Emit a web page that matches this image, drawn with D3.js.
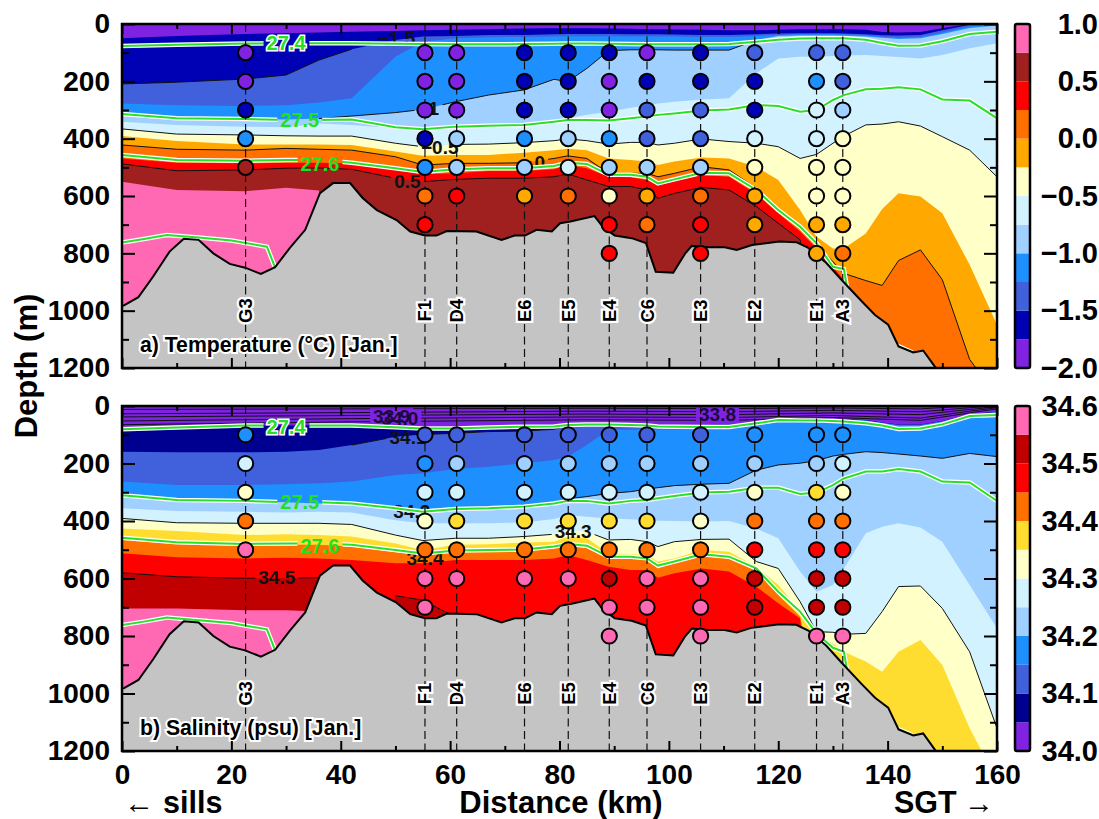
<!DOCTYPE html>
<html>
<head>
<meta charset="utf-8">
<script src="https://cdn.jsdelivr.net/npm/d3@7"></script>
<style>
  html, body { margin: 0; padding: 0; background: #fff; }
  text { font-family: "Liberation Sans", Arial, sans-serif; font-weight: bold; }
</style>
</head>
<body>
<div id="chart"></div>
<script>
// distance knots (km) shared by the contour arrays below, depths in m
var distKm = [0,10,22.5,30,36,42,50,55,61,67,73.5,79,81.5,85,89,93,96,98,101,106,111,116,120,124,127,130,132,136,139,142,146,150,155,160];

// temperature: depth where each colour band starts
var tempB1 = [50,42,35,32,30,27,24,22,20,18,16,15,15,15,16,17,18,18,19,20,22,22,20,18,18,18,18,20,28,30,28,15,0,-5];
var tempB2 = [209,203,192,178,126,88,56,44,42,38,38,36,35,35,35,36,36,36,37,38,38,36,33,32,32,32,33,36,39,40,38,22,3,-2];
var tempB3 = [277,283,286,283,274,259,114,62,50,46,45,44,43,43,43,44,44,44,44,45,45,42,38,36,36,36,37,40,45,48,45,30,8,0];
var tempB4 = [312,323,330,333,330,321,309,298,271,248,230,193,201,155,93,90,90,90,91,91,91,56,42,40,40,40,41,44,48,52,50,35,14,5];
var tempB5 = [341,352,358,360,347,352,364,370,360,356,350,341,329,317,306,292,283,277,271,263,259,172,120,114,114,112,110,108,112,115,120,108,85,67];
var tempB6 = [366,384,387,390,391,391,416,428,420,419,414,407,401,407,419,413,413,422,416,401,410,416,428,469,455,416,391,352,349,341,356,393,440,533];
var tempB7 = [391,408,420,420,420,422,445,460,457,457,449,440,435,440,469,474,480,492,480,466,469,498,544,649,742,783,783,731,645,590,602,660,840,1049];
var tempB8 = [422,437,440,434,437,440,463,492,486,486,484,469,460,469,521,521,521,533,521,498,509,573,649,713,771,829,870,895,912,825,788,892,1170,1300];
var tempB9 = [469,484,486,484,484,486,507,523,521,513,513,507,492,503,533,535,544,562,548,527,533,593,660,724,783,847,893,1300,1300,1300,1300,1300,1300,1300];
var tempB10 = [488,512,509,503,502,507,538,550,542,538,538,533,523,544,567,567,579,608,591,570,579,637,695,753,1300,1300,1300,1300,1300,1300,1300,1300,1300,1300];
var tempB11 = [550,579,583,571,581,1300,1300,1300,1300,1300,1300,1300,1300,1300,1300,1300,1300,1300,1300,1300,1300,1300,1300,1300,1300,1300,1300,1300,1300,1300,1300,1300,1300,1300];

// salinity bands
var salB1 = [78,73,68,68,67,66,68,72,72,70,67,66,60,60,60,64,66,66,66,66,64,57,49,46,45,45,46,49,57,64,64,52,29,20];
var salB2 = [159,161,161,159,153,136,107,99,95,89,87,81,68,62,61,65,67,67,67,67,65,58,50,47,46,46,47,50,58,65,65,53,30,21];
var salB3 = [263,275,275,272,269,263,240,234,219,211,199,188,176,136,83,83,82,82,82,82,80,60,50,49,48,48,48,50,59,68,68,54,31,22];
var salB4 = [310,323,330,335,339,339,350,358,352,350,344,335,323,315,304,298,289,284,277,272,269,223,205,199,190,174,168,159,162,167,174,182,165,176];
var salB5 = [356,365,368,370,368,370,397,408,408,408,405,393,379,385,391,394,397,399,400,402,400,426,460,576,646,623,565,443,420,408,423,472,623,773];
var salB6 = [391,406,408,408,408,412,449,468,460,460,454,446,431,437,466,464,472,489,472,464,463,541,565,681,785,787,794,791,715,628,626,704,855,1121];
var salB7 = [426,435,449,446,449,454,478,501,483,481,475,472,454,460,513,516,518,541,530,501,507,559,623,715,797,826,855,889,924,855,814,901,1121,1300];
var salB8 = [466,480,486,483,483,489,509,518,509,509,507,495,483,495,530,530,536,565,547,522,530,571,657,733,1000,1300,1300,1300,1300,1300,1300,1300,1300,1300];
var salB9 = [512,526,530,528,530,536,547,547,536,536,536,530,518,536,559,570,570,597,582,565,576,629,686,739,1300,1300,1300,1300,1300,1300,1300,1300,1300,1300];
var salB10 = [580,594,599,599,597,1300,660,675,735,1300,1300,1300,1300,1300,1300,1300,1300,1300,1300,1300,1300,1300,1300,1300,1300,1300,1300,1300,1300,1300,1300,1300,1300,1300];
var salB11 = [704,704,710,710,715,1300,1300,1300,1300,1300,1300,1300,1300,1300,1300,1300,1300,1300,1300,1300,1300,1300,1300,1300,1300,1300,1300,1300,1300,1300,1300,1300,1300,1300];

// isopycnals
var tempIso274 = [77,72,68,67,67,67,69,70,71,71,70,69,68,68,69,70,71,71,71,71,70,62,55,51,50,50,50,55,66,76,75,60,35,27];
var tempIso275 = [314,329,331,335,335,333,360,367,358,355,352,341,335,335,337,329,323,317,312,302,298,283,286,306,300,265,248,228,226,221,228,263,267,329];
var tempIso276 = [457,474,477,474,474,484,503,516,507,503,503,495,484,488,526,526,533,556,542,519,521,579,649,707,765,847,855,1300,1300,1300,1300,1300,1300,1300];
var salIso274 = [81,75,68,68,68,68,74,78,78,75,72,71,66,64,64,66,68,71,72,73,73,60,49,50,50,52,54,60,68,80,78,64,35,31];
var salIso275 = [310,327,330,335,335,339,356,368,358,356,350,339,330,330,339,330,327,321,313,301,298,284,284,306,301,275,252,228,228,219,228,263,266,330];
var salIso276 = [458,474,480,478,478,483,501,513,503,501,499,489,480,486,524,524,530,555,541,516,524,565,646,715,791,841,855,1300,1300,1300,1300,1300,1300,1300];
var iso277Km = [0,4,8.2,14,20,26.5,28];
var iso277Depth = [762,750,736,745,755,777,850];
var iso277RightKm = [141.5,144.5];
var iso277RightDepth = [1120,1145];

// near surface salinity isolines (33.x)
var salTopKm = [0,42,85,111,130,146,155,160];
var salTop1 = [12,10,8,9,7,10,0,-3];
var salTop2 = [27,23,18,20,15,20,6,0];
var salTop3 = [38,33,28,30,24,30,12,3];
var salTop4 = [52,44,38,40,33,42,18,6];
var salTop5 = [65,55,48,50,40,50,24,10];

// sea floor
var bathyKm = [0.2,3,5.7,8.7,11.3,14,16.7,19.7,22.5,25.4,28,30.7,33.5,36.2,38.6,41.7,44,46.6,50.2,52.7,55.4,57.5,59.4,64.8,69.4,71.8,73.7,75.8,78.6,80.1,82,86.4,87.9,90.1,93.2,95.8,97.6,100.8,103,104.2,107,110.2,112.4,115.2,120.2,123.3,125.5,128.8,131.6,135,137.7,140.1,142,144.7,146.5,148.7,155,160];
var bathyDepth = [983,953,881,794,749,753,800,837,850,872,848,781,718,590,555,555,607,649,684,724,738,738,722,724,753,738,738,718,724,695,689,670,707,738,747,764,864,868,800,774,779,779,788,771,759,761,781,834,893,962,1015,1049,1125,1146,1139,1197,1400,1500];

// stations, observed values from 100 m down every 100 m
var stationNames = ["G3","F1","D4","E6","E5","E4","C6","E3","E2","E1","A3"];
var stationKm = [22.6,55.4,61.2,73.6,81.6,89.1,96,105.8,115.7,127,131.8];
var tempObs = [
  [-1.875,-1.875,-1.625,-1.125,0.625],
  [-1.875,-1.875,-1.875,-1.625,-1.125,0.125,0.375],
  [-1.875,-1.875,-1.875,-0.875,-0.875,0.375],
  [-1.625,-1.625,-1.625,-1.125,-0.875,-0.125],
  [-1.625,-1.625,-1.625,-0.875,-0.625,0.125],
  [-1.625,-1.875,-1.875,-1.125,-0.875,-0.375,0.375,0.375],
  [-1.875,-1.625,-1.375,-1.375,-0.875,-0.125,0.125],
  [-1.625,-1.625,-1.375,-1.375,-0.875,0.125,0.375,0.375],
  [-1.375,-1.625,-1.625,-0.625,-0.375,-0.125,-0.125],
  [-1.375,-1.125,-0.625,-0.625,-0.375,-0.375,-0.125,-0.125],
  [-1.375,-1.375,-0.875,-0.375,-0.375,-0.375,-0.125,0.125]
];
var salObs = [
  [34.175,34.275,34.325,34.425,34.575],
  [34.125,34.175,34.275,34.325,34.425,34.575,34.575],
  [34.125,34.225,34.275,34.375,34.425,34.575],
  [34.125,34.225,34.275,34.375,34.425,34.575],
  [34.125,34.225,34.275,34.375,34.425,34.575],
  [34.125,34.225,34.275,34.375,34.425,34.525,34.575,34.575],
  [34.125,34.225,34.275,34.375,34.425,34.575,34.575],
  [34.125,34.225,34.275,34.325,34.425,34.575,34.575,34.575],
  [34.175,34.225,34.325,34.425,34.475,34.525,34.525],
  [34.175,34.225,34.375,34.425,34.475,34.525,34.525,34.575],
  [34.175,34.275,34.325,34.425,34.475,34.525,34.525,34.575]
];

// colour levels
var tempColors = ["#7f22e2","#0000b4","#4060dc","#1e8fff","#a0d0ff","#d2f2ff","#ffffc8","#ffa800","#ff7000","#ff0000","#a02020","#ff69b4"];
var salColors = ["#7f22e2","#000090","#4060dc","#1e8fff","#a0d0ff","#d2f2ff","#ffffc8","#ffdc30","#ff7000","#ff0000","#c00000","#ff69b4"];
var tempEdges = [-1.75,-1.5,-1.25,-1,-0.75,-0.5,-0.25,0,0.25,0.5,0.75];
var salEdges = [34.05,34.1,34.15,34.2,34.25,34.3,34.35,34.4,34.45,34.5,34.55];
var tempTicks = [-2,-1.5,-1,-0.5,0,0.5,1];
var salTicks = [34,34.1,34.2,34.3,34.4,34.5,34.6];

var tempLabels = [
  {t:"\u22121.5", km:50.2, d:50},
  {t:"\u22121", km:56, d:296},
  {t:"\u22120.5", km:58.1, d:430},
  {t:"0", km:76.4, d:484},
  {t:"0.5", km:52.2, d:550}
];
var salLabels = [
  {t:"33.9", km:49.3, d:37},
  {t:"34.0", km:50.8, d:43},
  {t:"33.8", km:108.9, d:31},
  {t:"34.1", km:52.3, d:110},
  {t:"34.2", km:53, d:368},
  {t:"34.3", km:82.5, d:437},
  {t:"34.4", km:55.4, d:530},
  {t:"34.5", km:28.3, d:597}
];
var tempIsoLabels = [{t:"27.4", km:30, d:67},{t:"27.5", km:32.5, d:335},{t:"27.6", km:36.2, d:490}];
var salIsoLabels = [{t:"27.4", km:30, d:72},{t:"27.5", km:32.5, d:335},{t:"27.6", km:36.2, d:487}];

var svgWidth = 1099, svgHeight = 819;
var plotLeft = 122, plotRight = 997;

var svg = d3.select("#chart").append("svg")
  .attr("width", svgWidth)
  .attr("height", svgHeight)
  .style("display", "block");

var x = d3.scaleLinear().domain([0, 160]).range([plotLeft, plotRight]);

function zipLine(kms, depths) {
  return kms.map(function(k, i) { return {km: k, d: depths[i]}; });
}

function drawPanel(p) {
  var y = d3.scaleLinear().domain([0, 1200]).range([p.top, p.bottom]);
  var colorOf = d3.scaleThreshold().domain(p.edges).range(p.colors);
  var clipId = "clip" + p.id;

  svg.append("clipPath").attr("id", clipId).append("rect")
    .attr("x", plotLeft).attr("y", p.top)
    .attr("width", plotRight - plotLeft).attr("height", p.bottom - p.top);

  var g = svg.append("g").attr("clip-path", "url(#" + clipId + ")");

  var fill = d3.area()
    .x(function(d) { return x(d.km); })
    .y0(y(1600))
    .y1(function(d) { return y(d.d); });
  var line = d3.line()
    .x(function(d) { return x(d.km); })
    .y(function(d) { return y(d.d); });

  // colour bands, shallow to deep
  g.append("rect").attr("x", plotLeft).attr("y", p.top)
    .attr("width", plotRight - plotLeft).attr("height", p.bottom - p.top)
    .attr("fill", p.colors[0]);
  p.bands.forEach(function(b, i) {
    g.append("path").attr("d", fill(zipLine(distKm, b))).attr("fill", p.colors[i + 1]);
  });

  // thin black contours, broken at their labels
  var blackGroup = g.append("g").attr("mask", "url(#mask" + p.id + "k)");
  p.contours.forEach(function(c) {
    var pts = zipLine(c.km || distKm, c.depth)
      .filter(function(q) { return q.km >= c.from && q.km <= c.to; });
    blackGroup.append("path").attr("d", line(pts))
      .attr("fill", "none").attr("stroke", "#111").attr("stroke-width", 1);
  });

  var blackText = g.append("g").selectAll("text").data(p.labels).enter().append("text")
    .attr("x", function(d) { return x(d.km); })
    .attr("y", function(d) { return y(d.d); })
    .attr("text-anchor", "middle")
    .attr("dominant-baseline", "central")
    .attr("font-size", 19)
    .attr("fill", function(d) { return d.d < 60 && p.id == "S" ? "#1a0a40" : "#111"; })
    .text(function(d) { return d.t; });

  // isopycnals: white casing under a green line
  var greenGroup = g.append("g").attr("mask", "url(#mask" + p.id + "g)");
  p.isos.forEach(function(pts) {
    greenGroup.append("path").attr("d", line(pts))
      .attr("fill", "none").attr("stroke", "#fff").attr("stroke-width", 4.5);
    greenGroup.append("path").attr("d", line(pts))
      .attr("fill", "none").attr("stroke", "#28e028").attr("stroke-width", 2);
  });

  var greenText = g.append("g").selectAll("text").data(p.isoLabels).enter().append("text")
    .attr("x", function(d) { return x(d.km); })
    .attr("y", function(d) { return y(d.d); })
    .attr("text-anchor", "middle")
    .attr("dominant-baseline", "central")
    .attr("font-size", 20)
    .attr("fill", "#22e022")
    .attr("stroke", function(d) { return d.t == "27.4" ? "#fff" : "none"; })
    .attr("stroke-width", 3)
    .attr("paint-order", "stroke")
    .text(function(d) { return d.t; });

  // masks use the label boxes
  function makeMask(id, sel) {
    var m = svg.append("mask").attr("id", id)
      .attr("maskUnits", "userSpaceOnUse")
      .attr("x", 0).attr("y", 0).attr("width", svgWidth).attr("height", svgHeight);
    m.append("rect").attr("width", svgWidth).attr("height", svgHeight).attr("fill", "#fff");
    sel.each(function() {
      var b = this.getBBox();
      m.append("rect").attr("x", b.x - 3).attr("y", b.y + 2)
        .attr("width", b.width + 6).attr("height", b.height - 4).attr("fill", "#000");
    });
  }
  makeMask("mask" + p.id + "k", blackText);
  makeMask("mask" + p.id + "g", greenText);

  // sea floor
  var bathy = zipLine(bathyKm, bathyDepth);
  g.append("path").attr("d", fill(bathy)).attr("fill", "#c4c4c4");
  g.append("path").attr("d", line(bathy))
    .attr("fill", "none").attr("stroke", "#000").attr("stroke-width", 2);

  // stations
  g.append("g").selectAll("line").data(stationKm).enter().append("line")
    .attr("x1", function(d) { return x(d); })
    .attr("x2", function(d) { return x(d); })
    .attr("y1", p.top).attr("y2", p.bottom)
    .attr("stroke", "#111").attr("stroke-width", 1.2)
    .attr("stroke-dasharray", "8 4.5");

  g.append("g").selectAll("text").data(stationNames).enter().append("text")
    .attr("transform", function(d, i) { return "translate(" + x(stationKm[i]) + "," + y(1000) + ") rotate(-90)"; })
    .attr("text-anchor", "middle")
    .attr("dominant-baseline", "central")
    .attr("font-size", 18.5)
    .attr("fill", "#000")
    .attr("stroke", "#fff").attr("stroke-width", 4.5)
    .attr("stroke-linejoin", "miter")
    .attr("paint-order", "stroke")
    .text(function(d) { return d; });

  p.obs.forEach(function(vals, s) {
    g.append("g").selectAll("circle").data(vals).enter().append("circle")
      .attr("cx", x(stationKm[s]))
      .attr("cy", function(d, i) { return y((i + 1) * 100); })
      .attr("r", 7.6)
      .attr("fill", function(d) { return colorOf(d); })
      .attr("stroke", "#000").attr("stroke-width", 2);
  });

  g.append("text")
    .attr("x", plotLeft + 18).attr("y", p.bottom - 16)
    .attr("font-size", 21.2)
    .attr("fill", "#000")
    .attr("stroke", "#fff").attr("stroke-width", 4)
    .attr("paint-order", "stroke")
    .text(p.title);

  // ticks on all four sides, inward
  var sides = [
    {axis: d3.axisBottom(x), tr: "translate(0," + p.top + ")", major: d3.range(0, 161, 20), minor: d3.range(10, 160, 20), mj: 10, mn: 5},
    {axis: d3.axisTop(x), tr: "translate(0," + p.bottom + ")", major: d3.range(0, 161, 20), minor: d3.range(10, 160, 20), mj: 10, mn: 5},
    {axis: d3.axisRight(y), tr: "translate(" + plotLeft + ",0)", major: d3.range(0, 1201, 200), minor: d3.range(100, 1200, 200), mj: 13, mn: 7},
    {axis: d3.axisLeft(y), tr: "translate(" + plotRight + ",0)", major: d3.range(0, 1201, 200), minor: d3.range(100, 1200, 200), mj: 13, mn: 7}
  ];
  sides.forEach(function(s) {
    [[s.major, s.mj], [s.minor, s.mn]].forEach(function(t) {
      var a = svg.append("g").attr("transform", s.tr)
        .call(s.axis.tickValues(t[0]).tickSize(t[1]).tickFormat(""));
      a.select(".domain").remove();
      a.selectAll("line").attr("stroke", "#000").attr("stroke-width", 2);
    });
  });

  // frame
  svg.append("rect")
    .attr("x", plotLeft).attr("y", p.top)
    .attr("width", plotRight - plotLeft).attr("height", p.bottom - p.top)
    .attr("fill", "none").attr("stroke", "#000").attr("stroke-width", 2.5);

  // depth labels
  var left = svg.append("g").attr("transform", "translate(" + (plotLeft - 12) + ",0)")
    .call(d3.axisLeft(y).tickValues(d3.range(0, 1201, 200)).tickSize(0).tickFormat(d3.format("d")));
  left.select(".domain").remove();
  left.selectAll("text").attr("x", 0).attr("font-size", 28).attr("fill", "#000")
    .style("font-family", "'Liberation Sans', Arial, sans-serif");

  // colour bar
  var barLeft = 1015, barWidth = 15;
  var barScale = d3.scaleLinear().domain(d3.extent(p.barTicks)).range([p.bottom, p.top]);
  var lows = [p.barTicks[0]].concat(p.edges);
  var highs = p.edges.concat([p.barTicks[p.barTicks.length - 1]]);
  svg.append("g").selectAll("rect").data(p.colors).enter().append("rect")
    .attr("x", barLeft)
    .attr("y", function(d, i) { return barScale(highs[i]); })
    .attr("width", barWidth)
    .attr("height", function(d, i) { return barScale(lows[i]) - barScale(highs[i]); })
    .attr("fill", function(d) { return d; });
  svg.append("rect")
    .attr("x", barLeft).attr("y", p.top)
    .attr("width", barWidth).attr("height", p.bottom - p.top)
    .attr("rx", 2)
    .attr("fill", "none").attr("stroke", "#000").attr("stroke-width", 2.5);

  var bar = svg.append("g").attr("transform", "translate(1098,0)")
    .call(d3.axisLeft(barScale).tickValues(p.barTicks).tickSize(0).tickFormat(p.barFormat));
  bar.select(".domain").remove();
  bar.selectAll("text").attr("x", 0).attr("font-size", 29).attr("fill", "#000")
    .style("font-family", "'Liberation Sans', Arial, sans-serif");

  return y;
}

function formatTemp(v) { return d3.format(".1f")(v).replace("-", "\u2212"); }

drawPanel({
  id: "T", top: 24, bottom: 368, title: "a) Temperature (\u00b0C) [Jan.]",
  colors: tempColors, edges: tempEdges, barTicks: tempTicks, barFormat: formatTemp,
  bands: [tempB1, tempB2, tempB3, tempB4, tempB5, tempB6, tempB7, tempB8, tempB9, tempB10, tempB11],
  contours: [
    {depth: tempB2, from: 0, to: 42},
    {depth: tempB4, from: 36, to: 116},
    {depth: tempB6, from: 0, to: 160},
    {depth: tempB8, from: 0, to: 160},
    {depth: tempB10, from: 0, to: 127}
  ],
  labels: tempLabels,
  isos: [zipLine(distKm, tempIso274), zipLine(distKm, tempIso275), zipLine(distKm, tempIso276),
         zipLine(iso277Km, iso277Depth), zipLine(iso277RightKm, iso277RightDepth)],
  isoLabels: tempIsoLabels,
  obs: tempObs
});

drawPanel({
  id: "S", top: 406, bottom: 751, title: "b) Salinity (psu) [Jan.]",
  colors: salColors, edges: salEdges, barTicks: salTicks, barFormat: d3.format(".1f"),
  bands: [salB1, salB2, salB3, salB4, salB5, salB6, salB7, salB8, salB9, salB10, salB11],
  contours: [
    {km: salTopKm, depth: salTop1, from: 0, to: 160},
    {km: salTopKm, depth: salTop2, from: 0, to: 160},
    {km: salTopKm, depth: salTop3, from: 0, to: 160},
    {km: salTopKm, depth: salTop4, from: 0, to: 160},
    {km: salTopKm, depth: salTop5, from: 0, to: 160},
    {depth: salB2, from: 42, to: 81.5},
    {depth: salB4, from: 79, to: 160},
    {depth: salB6, from: 0, to: 160},
    {depth: salB10, from: 0, to: 36},
    {depth: salB10, from: 50, to: 61}
  ],
  labels: salLabels,
  isos: [zipLine(distKm, salIso274), zipLine(distKm, salIso275), zipLine(distKm, salIso276),
         zipLine(iso277Km, iso277Depth), zipLine(iso277RightKm, iso277RightDepth)],
  isoLabels: salIsoLabels,
  obs: salObs
});

// bottom axis labels
var xLabels = svg.append("g").attr("transform", "translate(0,784)")
  .call(d3.axisBottom(x).tickValues(d3.range(0, 161, 20)).tickSize(0));
xLabels.select(".domain").remove();
xLabels.selectAll("text").attr("y", 0).attr("dy", 0).attr("font-size", 28).attr("fill", "#000")
  .style("font-family", "'Liberation Sans', Arial, sans-serif");

// axis titles
svg.append("text")
  .attr("transform", "translate(37,366) rotate(-90)")
  .attr("text-anchor", "middle")
  .attr("font-size", 31)
  .text("Depth (m)");

svg.append("text")
  .attr("x", 561).attr("y", 813)
  .attr("text-anchor", "middle")
  .attr("font-size", 31)
  .text("Distance (km)");

svg.append("text").attr("x", 124).attr("y", 812.5)
  .attr("font-size", 30).style("font-weight", "normal").text("\u2190");
svg.append("text").attr("x", 163).attr("y", 813).attr("font-size", 30.5).text("sills");
svg.append("text").attr("x", 894).attr("y", 813).attr("font-size", 30.5).text("SGT");
svg.append("text").attr("x", 994).attr("y", 812.5).attr("text-anchor", "end")
  .attr("font-size", 30).style("font-weight", "normal").text("\u2192");
</script>
</body>
</html>
